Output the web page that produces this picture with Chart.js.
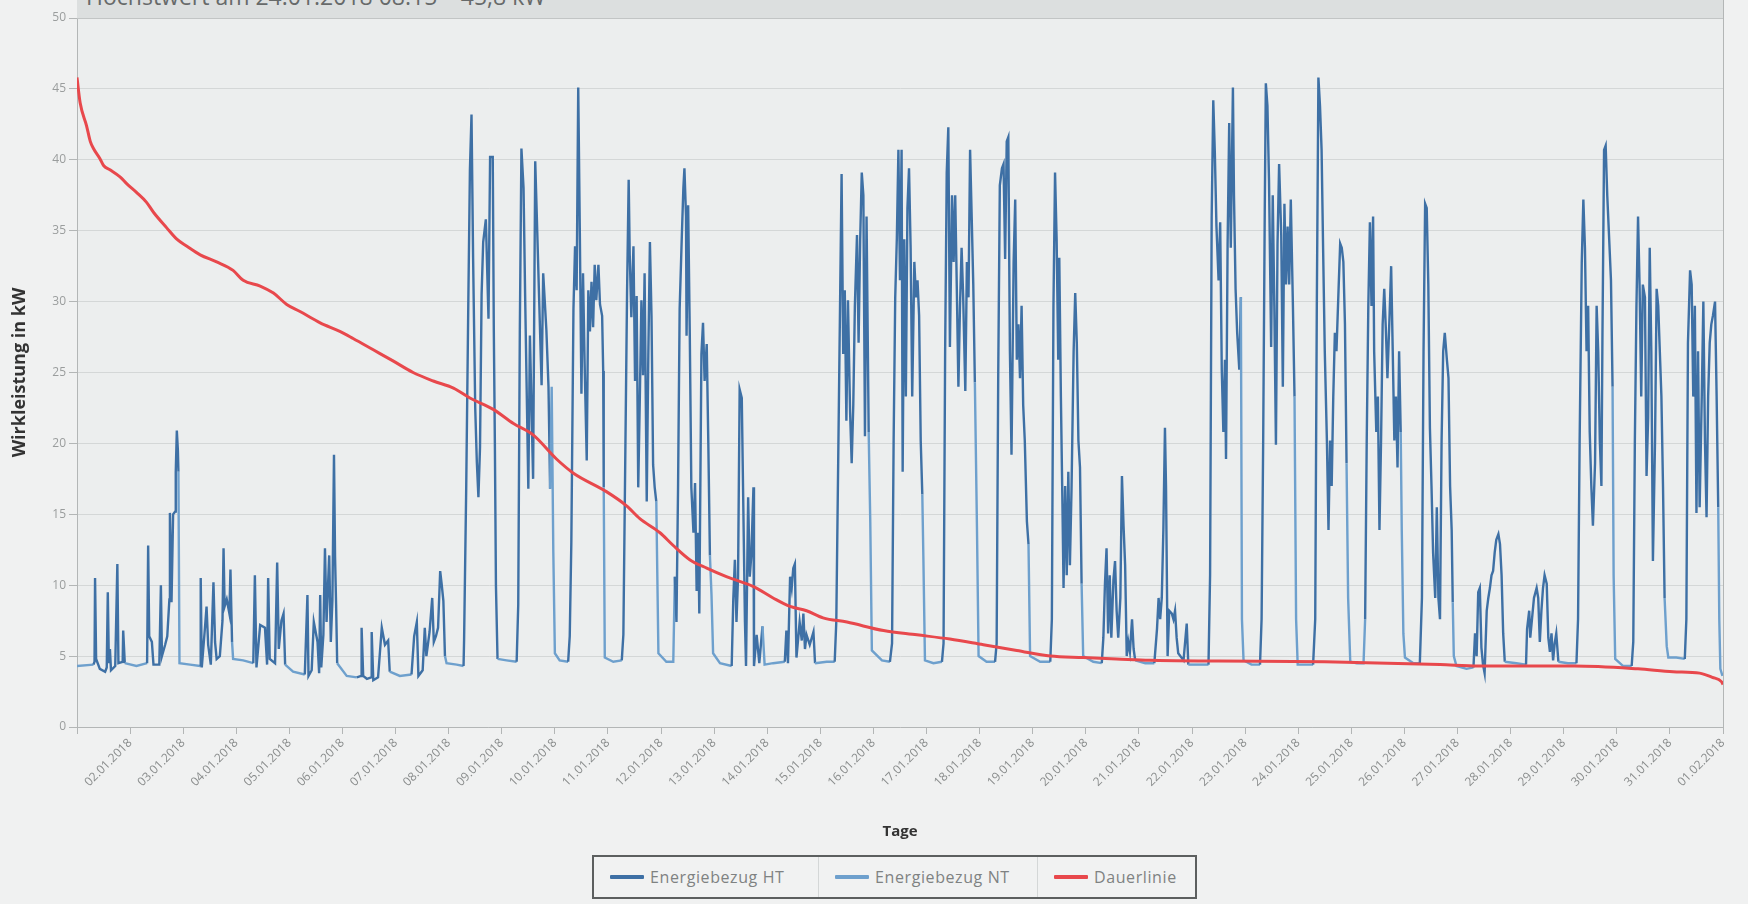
<!DOCTYPE html>
<html>
<head>
<meta charset="utf-8">
<script src="https://cdn.jsdelivr.net/npm/chart.js@4"></script>
<style>
  body { margin: 0; background: #f0f1f1; }
  #wrap { position: relative; width: 1748px; height: 904px; overflow: hidden; }
  #diagramm { position: absolute; left: 0; top: 0; }
  #kopf {
    position: absolute; left: 77px; top: 0; width: 1646px; height: 18px;
    background: #dcdfdf; border-bottom: 1px solid #c2c5c5; overflow: hidden;
  }
  #kopf span {
    position: absolute; left: 9px; top: -20px; white-space: nowrap;
    font: 23px 'Open Sans', sans-serif; color: #676a6a;
  }
  #legende {
    position: absolute; left: 592px; top: 855px; width: 605px; height: 44px;
    box-sizing: border-box; border: 2px solid #5c5f5f; background: #f1f2f2;
    display: flex; align-items: stretch;
  }
  .eintrag {
    display: flex; align-items: center; box-sizing: border-box; padding-left: 16px;
    font: 16px 'Open Sans', sans-serif; letter-spacing: 0.6px; color: #7f8282;
    border-right: 1px solid #d4d7d7;
  }
  .eintrag:last-child { border-right: none; }
  .eintrag i { display: inline-block; width: 34px; height: 4px; margin-right: 6px; border-radius: 1px; }
</style>
</head>
<body>
<div id="wrap">
  <canvas id="diagramm" width="1748" height="904"></canvas>
  <div id="kopf"><span>Höchstwert am 24.01.2018 08:15 – 45,8 kW</span></div>
  <div id="legende">
    <div class="eintrag" style="width:225px"><i style="background:#3e70a5"></i>Energiebezug HT</div>
    <div class="eintrag" style="width:219px"><i style="background:#6ea0cd"></i>Energiebezug NT</div>
    <div class="eintrag" style="width:157px"><i style="background:#e8484c"></i>Dauerlinie</div>
  </div>
</div>
<script>
// x = Tage seit 01.01.2018 00:00, y = kW
const lastgang = [
  [0.00,4.3],[0.31,4.4],[0.33,4.6],[0.34,10.5],[0.36,4.8],[0.43,4.1],[0.53,3.9],[0.56,4.2],[0.58,9.5],[0.60,4.5],[0.62,5.5],[0.64,4.0],[0.72,4.3],[0.76,11.5],[0.78,4.5],[0.86,4.6],[0.87,6.8],[0.90,4.5],[1.12,4.3],
  [1.32,4.5],[1.34,12.8],[1.36,6.4],[1.41,6.0],[1.44,4.4],[1.55,4.4],[1.58,10.0],[1.60,5.0],[1.66,5.8],[1.70,6.4],[1.74,9.0],[1.75,15.1],[1.78,8.8],[1.81,15.0],[1.85,15.2],[1.86,18.0],[1.88,20.9],[1.90,19.5],[1.91,18.0],[1.93,4.5],[2.13,4.4],
  [2.32,4.3],[2.33,10.5],[2.35,4.2],[2.41,7.0],[2.44,8.5],[2.47,5.8],[2.52,4.4],[2.57,10.2],[2.60,6.0],[2.63,4.8],[2.69,5.0],[2.74,7.5],[2.76,12.6],[2.78,8.5],[2.82,9.0],[2.87,8.0],[2.89,11.1],[2.92,6.0],[2.94,4.8],[3.13,4.7],
  [3.32,4.5],[3.35,10.7],[3.38,4.2],[3.45,7.2],[3.54,7.0],[3.58,4.4],[3.60,10.5],[3.63,4.8],[3.73,4.5],[3.77,11.6],[3.80,5.5],[3.85,7.5],[3.89,8.0],[3.92,4.4],[4.07,3.9],
  [4.29,3.7],[4.34,9.3],[4.36,3.6],[4.42,4.0],[4.46,7.4],[4.53,6.0],[4.56,3.8],[4.58,9.3],[4.60,4.2],[4.64,6.5],[4.67,12.6],[4.70,7.4],[4.75,12.1],[4.78,6.0],[4.81,8.9],[4.84,19.2],[4.86,12.0],[4.88,8.6],[4.90,4.5],[5.08,3.6],
  [5.27,3.5],[5.35,3.6],[5.36,7.0],[5.39,3.6],[5.46,3.4],[5.54,3.5],[5.55,6.7],[5.58,3.3],[5.67,3.5],[5.74,7.0],[5.80,5.8],[5.86,6.1],[5.89,3.9],[6.08,3.6],
  [6.30,3.7],[6.35,6.4],[6.40,7.4],[6.43,3.6],[6.51,4.0],[6.55,7.0],[6.58,5.0],[6.64,6.7],[6.69,9.1],[6.72,6.0],[6.76,6.4],[6.80,7.0],[6.84,11.0],[6.87,10.0],[6.90,8.9],[6.93,5.0],[6.96,4.5],[7.15,4.4],
  [7.28,4.3],[7.29,6.1],[7.33,16.8],[7.37,30.0],[7.40,39.3],[7.43,43.2],[7.46,33.1],[7.50,22.5],[7.53,18.7],[7.56,16.2],[7.59,19.7],[7.62,30.5],[7.65,34.2],[7.70,35.8],[7.75,28.8],[7.78,40.2],[7.83,40.2],[7.85,28.0],[7.87,20.0],[7.89,10.0],[7.92,4.8],[8.09,4.7],
  [8.28,4.6],[8.31,8.6],[8.34,28.0],[8.37,40.8],[8.41,38.0],[8.44,30.4],[8.50,16.8],[8.53,27.6],[8.59,17.5],[8.63,39.9],[8.66,36.0],[8.69,32.0],[8.75,24.1],[8.78,32.0],[8.81,30.0],[8.84,28.0],[8.88,24.0],[8.91,16.8],[8.94,24.0],[8.97,12.5],[9.00,5.2],[9.09,4.7],
  [9.25,4.6],[9.28,6.4],[9.31,13.0],[9.35,29.5],[9.38,33.9],[9.41,30.8],[9.44,45.1],[9.47,34.9],[9.50,23.5],[9.53,32.0],[9.56,25.7],[9.60,18.8],[9.63,30.8],[9.66,27.9],[9.69,31.4],[9.72,28.2],[9.75,32.6],[9.78,30.1],[9.82,32.6],[9.85,29.8],[9.89,29.0],[9.91,25.1],[9.92,16.9],[9.94,4.9],[10.10,4.6],
  [10.26,4.7],[10.29,6.5],[10.32,16.9],[10.36,30.8],[10.39,38.6],[10.41,33.3],[10.44,28.9],[10.48,33.9],[10.51,24.4],[10.54,30.4],[10.57,16.9],[10.60,23.2],[10.63,30.1],[10.66,24.8],[10.69,32.0],[10.73,15.9],[10.76,26.3],[10.79,34.2],[10.82,29.0],[10.85,18.5],[10.88,16.9],[10.91,15.9],[10.95,5.2],[11.10,4.6],
  [11.23,4.6],[11.26,10.6],[11.29,7.4],[11.32,16.9],[11.35,29.5],[11.39,34.5],[11.42,38.0],[11.44,39.4],[11.47,36.0],[11.48,27.6],[11.51,36.8],[11.54,28.0],[11.57,16.9],[11.61,13.7],[11.64,17.2],[11.67,9.6],[11.70,13.7],[11.72,8.0],[11.76,26.3],[11.79,28.5],[11.82,24.4],[11.86,27.0],[11.89,20.0],[11.92,12.1],[11.95,9.3],[11.98,5.2],[12.11,4.5],
  [12.33,4.3],[12.36,9.0],[12.39,11.8],[12.42,7.4],[12.45,10.6],[12.48,23.8],[12.52,23.2],[12.55,15.3],[12.58,7.4],[12.60,4.3],[12.64,16.2],[12.67,10.6],[12.70,12.1],[12.74,16.9],[12.75,4.3],[12.80,6.5],[12.85,4.5],[12.91,7.1],[12.95,4.4],[13.11,4.5],
  [13.33,4.6],[13.36,6.8],[13.39,4.5],[13.43,10.6],[13.46,9.8],[13.49,11.2],[13.52,11.5],[13.55,4.9],[13.61,7.4],[13.65,6.1],[13.68,8.0],[13.71,5.5],[13.74,6.5],[13.80,5.8],[13.87,6.7],[13.90,4.5],[14.12,4.6],
  [14.27,4.6],[14.30,7.4],[14.34,20.0],[14.37,29.5],[14.40,39.0],[14.43,26.3],[14.46,30.8],[14.49,21.6],[14.52,30.1],[14.56,22.2],[14.59,18.6],[14.62,22.7],[14.65,29.7],[14.69,34.7],[14.72,27.1],[14.75,34.4],[14.78,39.1],[14.81,37.5],[14.84,20.5],[14.87,36.0],[14.91,20.8],[14.94,14.5],[14.97,5.4],[15.16,4.7],
  [15.31,4.6],[15.35,5.9],[15.38,20.2],[15.41,30.3],[15.44,34.4],[15.47,40.7],[15.50,31.5],[15.53,40.7],[15.55,18.0],[15.58,34.4],[15.61,23.3],[15.64,36.6],[15.67,39.4],[15.70,33.8],[15.73,23.3],[15.77,32.8],[15.80,30.3],[15.83,31.5],[15.86,29.0],[15.89,20.2],[15.92,16.4],[15.94,12.0],[15.97,4.7],[16.13,4.5],
  [16.29,4.6],[16.32,5.9],[16.35,26.5],[16.38,39.1],[16.41,42.3],[16.44,26.8],[16.48,37.5],[16.51,32.8],[16.54,37.5],[16.57,30.9],[16.60,24.0],[16.63,29.7],[16.66,33.8],[16.69,30.3],[16.73,23.7],[16.76,32.8],[16.79,30.3],[16.82,40.7],[16.85,36.0],[16.88,31.2],[16.91,24.3],[16.95,13.9],[16.98,5.0],[17.13,4.6],
  [17.29,4.6],[17.32,5.9],[17.35,24.9],[17.38,38.2],[17.42,39.4],[17.45,39.7],[17.48,33.0],[17.51,41.3],[17.54,41.6],[17.57,26.5],[17.60,19.2],[17.64,32.8],[17.67,37.2],[17.70,25.9],[17.73,28.4],[17.76,24.6],[17.79,29.7],[17.82,22.7],[17.85,20.2],[17.89,14.5],[17.92,12.9],[17.95,5.0],[18.14,4.6],
  [18.33,4.6],[18.36,7.6],[18.39,29.7],[18.42,39.1],[18.45,34.4],[18.48,25.9],[18.50,33.1],[18.53,23.3],[18.56,15.5],[18.58,9.8],[18.61,17.0],[18.64,10.7],[18.67,18.0],[18.70,11.4],[18.73,16.7],[18.77,26.5],[18.80,30.6],[18.83,27.1],[18.86,20.2],[18.89,18.3],[18.92,10.1],[18.95,5.0],[19.14,4.6],
  [19.30,4.5],[19.33,6.3],[19.36,10.1],[19.39,12.6],[19.42,6.6],[19.45,10.7],[19.48,6.3],[19.52,10.4],[19.55,11.7],[19.58,8.2],[19.61,6.3],[19.65,9.1],[19.68,17.7],[19.71,14.2],[19.74,11.4],[19.77,5.0],[19.80,6.0],[19.83,5.3],[19.87,7.6],[19.90,5.5],[19.93,4.7],[20.12,4.5],
  [20.29,4.5],[20.34,6.9],[20.37,9.1],[20.40,7.6],[20.43,9.1],[20.46,13.9],[20.49,21.1],[20.51,17.0],[20.54,5.0],[20.57,8.2],[20.62,8.0],[20.65,7.6],[20.68,8.2],[20.71,6.3],[20.74,5.2],[20.84,4.7],[20.90,7.3],[20.93,4.4],[21.09,4.4],
  [21.31,4.4],[21.34,10.7],[21.37,36.0],[21.40,44.2],[21.43,40.4],[21.46,35.3],[21.50,31.5],[21.53,35.6],[21.56,25.2],[21.59,20.8],[21.62,25.9],[21.64,18.9],[21.67,34.1],[21.70,42.6],[21.73,33.8],[21.77,45.1],[21.79,37.5],[21.82,30.9],[21.85,27.8],[21.89,25.2],[21.92,30.3],[21.94,7.6],[21.97,4.7],[22.12,4.4],
  [22.28,4.4],[22.31,7.6],[22.34,20.2],[22.37,36.6],[22.39,45.4],[22.42,43.8],[22.45,38.5],[22.49,26.8],[22.52,37.5],[22.55,29.7],[22.58,19.9],[22.61,34.1],[22.64,39.7],[22.68,34.7],[22.71,24.0],[22.74,36.9],[22.77,31.2],[22.80,35.3],[22.83,31.2],[22.86,37.2],[22.90,29.7],[22.93,23.3],[22.96,7.6],[22.99,4.4],[23.16,4.4],
  [23.28,4.4],[23.32,7.6],[23.35,29.7],[23.38,45.8],[23.41,43.8],[23.44,40.7],[23.47,33.4],[23.50,26.5],[23.54,20.2],[23.57,13.9],[23.60,20.2],[23.63,17.0],[23.66,23.3],[23.69,27.8],[23.72,26.5],[23.76,30.9],[23.79,34.1],[23.82,33.8],[23.85,32.8],[23.88,28.4],[23.91,18.6],[23.94,9.1],[23.98,4.6],[24.10,4.5],
  [24.23,4.5],[24.26,7.6],[24.29,20.2],[24.32,29.7],[24.35,35.6],[24.38,29.7],[24.41,36.0],[24.43,26.5],[24.47,20.8],[24.50,23.3],[24.53,13.9],[24.56,20.2],[24.59,28.4],[24.62,30.9],[24.65,28.1],[24.68,24.6],[24.72,29.0],[24.75,32.5],[24.78,26.5],[24.81,20.2],[24.84,23.3],[24.87,18.3],[24.90,26.5],[24.93,20.8],[24.95,13.9],[24.98,6.6],[25.01,4.9],[25.17,4.5],
  [25.29,4.5],[25.33,9.1],[25.36,26.5],[25.39,36.9],[25.42,36.6],[25.45,31.2],[25.48,21.1],[25.51,17.0],[25.54,12.3],[25.58,9.1],[25.61,15.5],[25.64,9.1],[25.67,7.6],[25.70,20.2],[25.73,26.5],[25.76,27.8],[25.80,25.9],[25.83,24.6],[25.86,17.0],[25.89,13.9],[25.91,8.8],[25.93,5.0],[25.98,4.3],[26.17,4.1],
  [26.30,4.2],[26.33,6.6],[26.36,5.0],[26.39,9.5],[26.42,9.8],[26.45,5.6],[26.48,4.4],[26.51,3.8],[26.55,8.2],[26.58,9.1],[26.61,9.8],[26.64,10.7],[26.67,11.0],[26.70,12.3],[26.73,13.2],[26.77,13.6],[26.80,12.9],[26.83,10.7],[26.86,6.6],[26.89,4.6],[27.11,4.5],
  [27.29,4.4],[27.31,6.9],[27.35,8.2],[27.37,6.3],[27.41,7.9],[27.44,9.1],[27.49,9.8],[27.52,9.1],[27.55,6.0],[27.58,8.2],[27.61,9.8],[27.64,10.7],[27.68,10.1],[27.71,6.3],[27.74,5.3],[27.77,6.6],[27.80,4.7],[27.83,5.9],[27.86,6.6],[27.90,4.6],[28.08,4.5],
  [28.24,4.5],[28.27,7.6],[28.30,20.2],[28.34,32.8],[28.37,37.2],[28.40,33.8],[28.43,26.5],[28.46,29.7],[28.49,20.8],[28.52,17.0],[28.55,14.2],[28.59,18.6],[28.62,29.7],[28.65,26.5],[28.68,20.2],[28.71,17.0],[28.73,27.8],[28.76,40.7],[28.79,41.0],[28.82,37.5],[28.86,34.1],[28.89,31.5],[28.92,24.0],[28.94,10.7],[28.97,4.8],[29.12,4.3],
  [29.28,4.3],[29.31,6.0],[29.34,20.2],[29.37,29.7],[29.40,36.0],[29.43,30.9],[29.46,23.3],[29.49,31.2],[29.53,30.3],[29.56,17.7],[29.59,21.8],[29.62,33.8],[29.65,26.5],[29.68,11.7],[29.72,20.2],[29.75,30.9],[29.78,29.7],[29.81,26.5],[29.84,23.3],[29.87,17.0],[29.90,9.1],[29.94,5.7],[29.97,4.9],[30.12,4.9],
  [30.28,4.8],[30.31,7.6],[30.34,27.1],[30.38,32.2],[30.41,31.2],[30.44,23.3],[30.47,29.7],[30.50,15.1],[30.53,26.5],[30.56,15.5],[30.60,23.3],[30.63,30.0],[30.66,20.2],[30.69,14.8],[30.72,23.3],[30.75,27.1],[30.78,28.4],[30.81,29.0],[30.85,30.0],[30.88,23.3],[30.91,15.5],[30.93,7.6],[30.95,4.1],[30.99,3.6]
];

const dauerlinie = [
  [0,45.8],[0.06,44.0],[0.18,42.4],[0.25,41.3],[0.31,40.8],[0.43,40.1],[0.50,39.6],[0.62,39.3],[0.81,38.8],[0.94,38.3],
  [1.12,37.7],[1.31,37.0],[1.44,36.3],[1.69,35.2],[1.88,34.4],[2.07,33.9],[2.32,33.3],[2.63,32.8],[2.94,32.2],[3.13,31.5],
  [3.45,31.1],[3.70,30.6],[3.95,29.8],[4.20,29.3],[4.58,28.5],[4.95,27.9],[5.20,27.4],[5.58,26.6],[5.96,25.8],[6.33,25.0],
  [6.71,24.4],[7.09,23.9],[7.40,23.2],[7.84,22.4],[8.22,21.4],[8.59,20.6],[9.03,18.9],[9.35,17.9],[9.97,16.6],[10.35,15.6],
  [10.60,14.7],[10.98,13.7],[11.23,12.8],[11.54,11.8],[11.86,11.2],[12.23,10.6],[12.74,9.9],[13.11,9.1],[13.43,8.5],[13.74,8.2],
  [14.05,7.7],[14.50,7.4],[15.19,6.8],[15.82,6.5],[16.44,6.2],[17.07,5.8],[17.70,5.4],[18.33,5.0],[18.95,4.9],[19.58,4.8],
  [20.20,4.7],[21.50,4.65],[23.50,4.6],[25.67,4.4],[26.40,4.3],[28.20,4.3],[29.40,4.1],[30.06,3.9],[30.56,3.8],[30.80,3.5],
  [30.97,3.2],[31,3.0]
];

const tagesLabels = [
  '02.01.2018','03.01.2018','04.01.2018','05.01.2018','06.01.2018','07.01.2018','08.01.2018','09.01.2018',
  '10.01.2018','11.01.2018','12.01.2018','13.01.2018','14.01.2018','15.01.2018','16.01.2018','17.01.2018',
  '18.01.2018','19.01.2018','20.01.2018','21.01.2018','22.01.2018','23.01.2018','24.01.2018','25.01.2018',
  '26.01.2018','27.01.2018','28.01.2018','29.01.2018','30.01.2018','31.01.2018','01.02.2018'
];

const farbeHT = '#3e70a5';
const farbeNT = '#6ea0cd';
const farbeDauer = '#e8484c';
const achsenFarbe = '#b3b6b6';

// HT 06:00 - 22:00
const istHT = t => { const h = (t - Math.floor(t)) * 24; return h >= 6 && h < 22; };

const hintergrund = {
  id: 'hintergrund',
  beforeDraw(chart) {
    const { ctx, chartArea: a } = chart;
    ctx.save();
    ctx.fillStyle = '#eceeee';
    ctx.fillRect(a.left, a.top, a.right - a.left, a.bottom - a.top);
    ctx.restore();
  },
  afterDraw(chart) {
    const { ctx, chartArea: a } = chart;
    ctx.save();
    ctx.strokeStyle = achsenFarbe;
    ctx.lineWidth = 1;
    ctx.beginPath();
    ctx.moveTo(a.right + 0.5, 0);
    ctx.lineTo(a.right + 0.5, a.bottom + 7);
    ctx.stroke();
    ctx.restore();
  }
};

Chart.defaults.font.family = "'Open Sans', sans-serif";

new Chart(document.getElementById('diagramm'), {
  type: 'line',
  data: {
    datasets: [
      {
        label: 'Dauerlinie',
        data: dauerlinie.map(([x, y]) => ({ x, y })),
        borderColor: farbeDauer,
        borderWidth: 3,
        pointRadius: 0,
        tension: 0.3,
        cubicInterpolationMode: 'monotone',
        order: 0
      },
      {
        label: 'Energiebezug',
        data: lastgang.map(([x, y]) => ({ x, y })),
        borderColor: farbeNT,
        borderWidth: 2.4,
        pointRadius: 0,
        tension: 0,
        segment: {
          borderColor: s => istHT((s.p0.parsed.x + s.p1.parsed.x) / 2) ? farbeHT : farbeNT
        },
        order: 1
      }
    ]
  },
  options: {
    responsive: false,
    animation: false,
    devicePixelRatio: 1,
    layout: { padding: { top: 18, right: 25, left: 0, bottom: 0 } },
    plugins: { legend: { display: false }, tooltip: { enabled: false } },
    scales: {
      x: {
        type: 'linear',
        min: 0,
        max: 31,
        afterFit: s => { s.height = 177; },
        ticks: {
          stepSize: 1,
          autoSkip: false,
          minRotation: 45,
          maxRotation: 45,
          padding: 2,
          color: '#8a8d8d',
          font: { size: 12 },
          callback: v => (v === 0 ? '' : tagesLabels[v - 1])
        },
        grid: { drawOnChartArea: false, tickLength: 7, color: achsenFarbe },
        border: { color: achsenFarbe },
        title: {
          display: true,
          text: 'Tage',
          color: '#333',
          font: { size: 15, weight: 'bold' },
          padding: { top: 0, bottom: 63 }
        }
      },
      y: {
        min: 0,
        max: 50,
        afterFit: s => { s.width = 77; },
        ticks: { stepSize: 5, color: '#9a9d9d', font: { size: 12 }, padding: 3 },
        grid: { color: '#d4d7d7', tickLength: 8, tickColor: achsenFarbe },
        border: { color: achsenFarbe },
        title: {
          display: true,
          text: 'Wirkleistung in kW',
          color: '#333',
          font: { size: 18, weight: 'bold' },
          padding: { top: 9, bottom: 0 }
        }
      }
    }
  },
  plugins: [hintergrund]
});
</script>
</body>
</html>
